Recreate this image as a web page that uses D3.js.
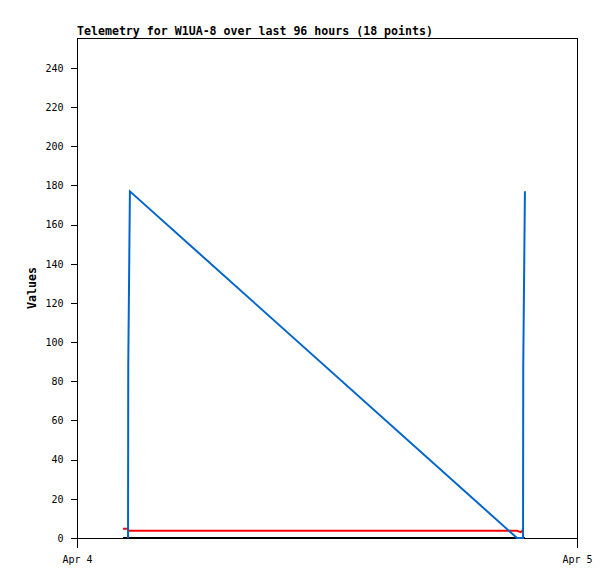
<!DOCTYPE html>
<html>
<head>
<meta charset="utf-8">
<script src="https://cdn.jsdelivr.net/npm/d3@7"></script>
<style>
  html, body { margin: 0; padding: 0; background: #fff; }
  svg { display: block; }
  .tick text { font-family: "DejaVu Sans Mono", "Liberation Mono", monospace; font-size: 10px; fill: #000; }
</style>
</head>
<body>
<svg id="chart" width="615" height="579"></svg>
<script>
// ---- data (hours after Apr 4 00:00 UTC, value) ----
const titleText = "Telemetry for W1UA-8 over last 96 hours (18 points)";
const yLabel = "Values";
const xStart = "2024-04-04T00:00:00Z";
const xEnd = "2024-04-05T00:00:00Z";
const xTickLabels = ["Apr 4", "Apr 5"];
const yTicks = [0, 20, 40, 60, 80, 100, 120, 140, 160, 180, 200, 220, 240];

const blackHours  = [2.21, 2.45, 21.12, 21.42, 21.50];
const blackValues = [0, 0, 0, 0, 0];

const redHours  = [2.21, 2.45, 2.46, 21.12, 21.30, 21.38, 21.45];
const redValues = [4.7, 4.7, 3.7, 3.7, 3.0, 3.8, 3.8];

const blueHours  = [2.45, 2.46, 2.54, 21.12, 21.41, 21.42, 21.50];
const blueValues = [0, 88.5, 177, 0, 0, 88.5, 177];

// ---- layout ----
const svg = d3.select("#chart");
const m = { left: 77, top: 38, right: 577, bottom: 538 };
const t0 = new Date(xStart), t1 = new Date(xEnd);
const x = d3.scaleUtc().domain([t0, t1]).range([m.left, m.right]);
const y = d3.scaleLinear().domain([0, 255.3]).range([m.bottom, m.top]);
const toDate = h => new Date(t0.getTime() + h * 3600 * 1000);

// frame
svg.append("rect")
  .attr("x", m.left + 0.5).attr("y", m.top + 0.5)
  .attr("width", m.right - m.left).attr("height", m.bottom - m.top)
  .attr("fill", "none").attr("stroke", "#000").attr("stroke-width", 1)
  .attr("shape-rendering", "crispEdges");

// y axis
const yAxis = d3.axisLeft(y).tickValues(yTicks).tickSize(7).tickPadding(7).tickFormat(d3.format("d"));
svg.append("g").attr("transform", `translate(${m.left + 0.5},0)`).call(yAxis)
  .call(g => g.select(".domain").remove())
  .call(g => g.selectAll("line").attr("shape-rendering", "crispEdges"));

// x axis
const xAxis = d3.axisBottom(x).tickValues([t0, t1]).tickSize(9).tickPadding(6)
  .tickFormat((d, i) => xTickLabels[i]);
svg.append("g").attr("transform", `translate(0,${m.bottom + 0.5})`).call(xAxis)
  .call(g => g.select(".domain").remove())
  .call(g => g.selectAll("line").attr("shape-rendering", "crispEdges"))
  .call(g => g.selectAll("text").attr("dy", "0.9em"));

// series
const line = d3.line().x(d => x(toDate(d[0]))).y(d => y(d[1]));
const series = [
  { h: blackHours, v: blackValues, color: "#000000" },
  { h: redHours, v: redValues, color: "#ff0000" },
  { h: blueHours, v: blueValues, color: "#0066cc" }
];
series.forEach(s => {
  svg.append("path")
    .datum(s.h.map((h, i) => [h, s.v[i]]))
    .attr("d", line)
    .attr("fill", "none")
    .attr("stroke", s.color)
    .attr("stroke-width", 2)
    .attr("stroke-linejoin", "miter");
});

// title
svg.append("text")
  .attr("x", m.left).attr("y", 35)
  .attr("font-family", "'DejaVu Sans Mono', 'Liberation Mono', monospace")
  .attr("font-size", 11.6).attr("font-weight", "bold")
  .text(titleText);

// y label
svg.append("text")
  .attr("transform", `translate(36,${(m.top + m.bottom) / 2}) rotate(-90)`)
  .attr("text-anchor", "middle")
  .attr("font-family", "'DejaVu Sans Mono', 'Liberation Mono', monospace")
  .attr("font-size", 11.6).attr("font-weight", "bold")
  .text(yLabel);
</script>
</body>
</html>
